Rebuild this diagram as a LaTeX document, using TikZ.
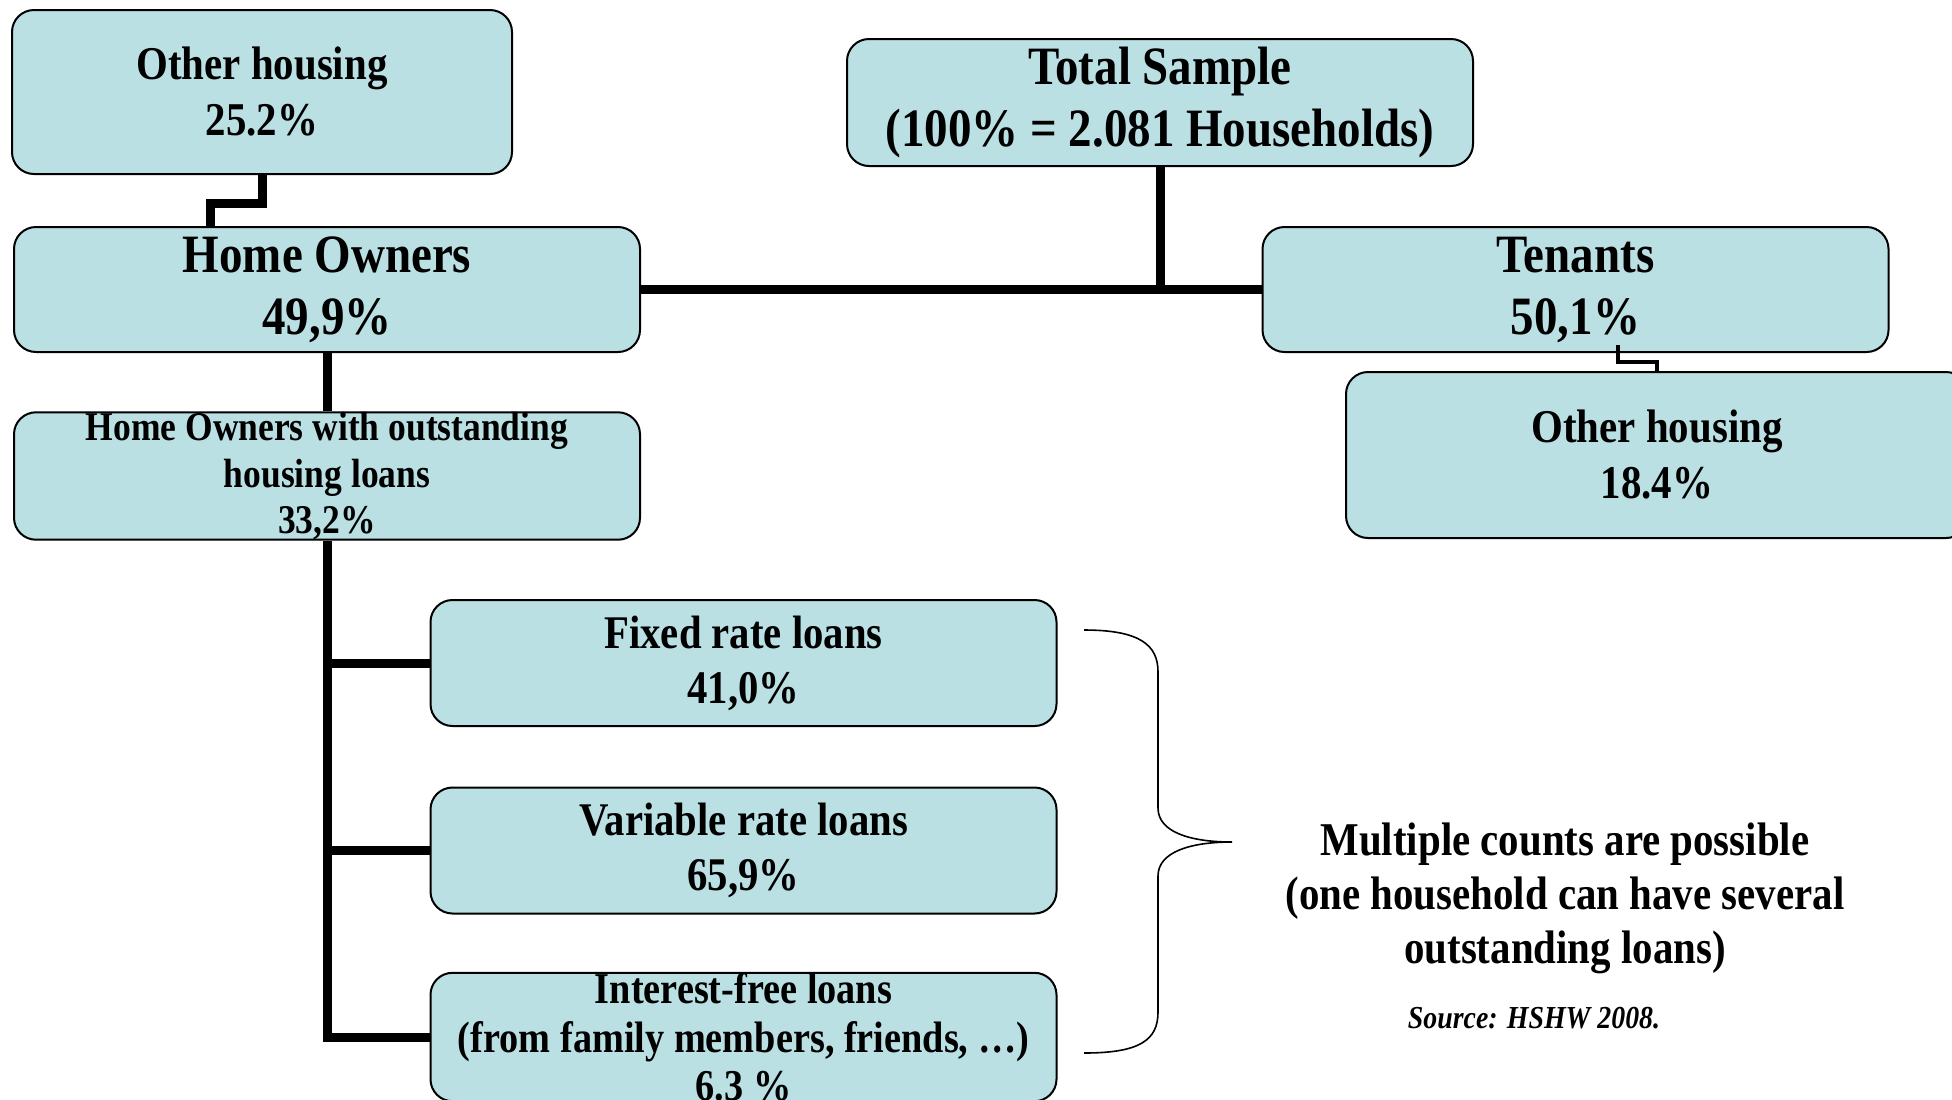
\documentclass[tikz,border=0pt]{standalone}
\usepackage{fontspec}
\setmainfont{Liberation Serif}[FakeStretch=0.87]
\usetikzlibrary{calc}
\definecolor{boxfill}{RGB}{186,224,227}

\begin{document}
\begin{tikzpicture}[x=0.5pt,y=-0.5pt,
    box/.style={draw=black,line width=1pt,fill=boxfill,rounded corners=11pt,
      align=center,inner sep=0pt,minimum width=313pt,minimum height=63pt},
    bigtext/.style={font=\bfseries\fontsize{27}{31}\selectfont},
    midtext/.style={font=\bfseries\fontsize{23.5}{28}\selectfont},
    smalltext/.style={font=\bfseries\fontsize{20.4}{23.2}\selectfont},
    loantext/.style={font=\bfseries\fontsize{23.4}{27.5}\selectfont},
    trunk/.style={line width=4.5pt},
    link/.style={line width=2pt},
    brace/.style={line width=0.8pt}]
  \useasboundingbox (0,0) rectangle (1952,1099);

  % Top levels
  \node[box,bigtext,minimum height=63.5pt] (total) at (1160,102.5) {Total Sample\\(100\% = 2.081 Households)};
  \node[box,bigtext,minimum height=62.5pt] (owners) at (327,289.5) {Home Owners\\49,9\%};
  \node[box,bigtext,minimum height=62.5pt] (tenants) at (1575.5,289.5) {Tenants\\50,1\%};

  % Other housing
  \node[box,midtext,minimum width=250pt,minimum height=82pt] (oh1) at (262,92) {Other housing\\25.2\%};
  \node[box,midtext,minimum width=311pt,minimum height=83pt] (oh2) at (1657,455) {Other housing\\18.4\%};

  % Loans
  \node[box,smalltext] (hol) at (327,476) {Home Owners with outstanding\\housing loans\\33,2\%};
  \node[box,loantext] (fixed) at (743.5,663) {Fixed rate loans\\41,0\%};
  \node[box,loantext] (variable) at (743.5,850.5) {Variable rate loans\\65,9\%};
  \node[box,font=\bfseries\fontsize{22}{24.2}\selectfont] (free) at (743.5,1037) {Interest-free loans\\(from family members, friends, \ldots)\\6.3 \%};

  % Connectors
  \draw[trunk] (owners.east) -- (tenants.west);
  \draw[trunk] (total.south) -- (total.south |- owners.east);
  \draw[trunk] (oh1.south) |- (210,203) -- (owners.north -| 210,0);
  \draw[link] ([shift={(42,-8)}]tenants.south) -- ++(0,17) -| (oh2.north);
  \draw[trunk] (owners.south) -- (hol.north);
  \foreach \n in {fixed,variable,free}
    \draw[trunk] (hol.south) |- (\n.west);

  % Brace and note
  \draw[brace] (1084,630) .. controls (1140,630) and (1158,645) .. (1158,672)
    -- (1158,808) .. controls (1158,832) and (1190,842) .. (1232,842)
    .. controls (1190,842) and (1158,852) .. (1158,876)
    -- (1158,1012) .. controls (1158,1040) and (1140,1053) .. (1084,1053);
  \node[align=center,font=\bfseries\fontsize{23.5}{27}\selectfont] (note) at (1565,898)
    {Multiple counts are possible\\(one household can have several\\outstanding loans)};
  \node[font=\bfseries\itshape\fontsize{16}{19}\selectfont] (source) at (1534,1018) {Source: HSHW 2008.};
\end{tikzpicture}
\end{document}
